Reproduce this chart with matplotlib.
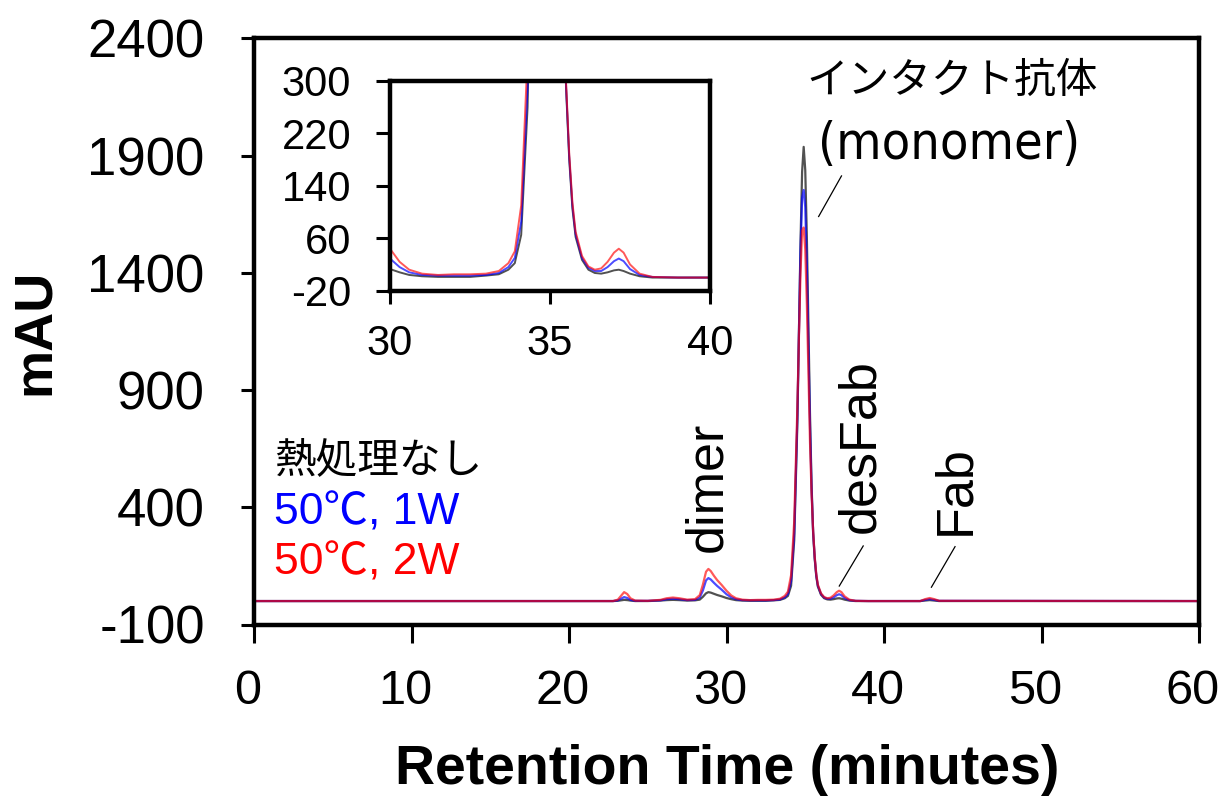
import matplotlib
matplotlib.use('Agg')
import matplotlib.pyplot as plt
from matplotlib import font_manager as fm
from matplotlib.transforms import ScaledTranslation

plt.rcParams['font.family'] = ['Liberation Sans', 'Noto Sans CJK JP', 'DejaVu Sans']
plt.rcParams['axes.unicode_minus'] = False

# retention time (min) and absorbance (mAU)
t = [0, 22.8, 23.1, 23.3, 23.5, 23.7, 23.9, 24.2, 25.0, 25.8, 26.2, 26.6, 27.0, 27.5,
     28.0, 28.3, 28.5, 28.7, 28.85, 29.0, 29.2, 29.4, 29.7, 30.0, 30.3, 30.6, 31.0,
     31.5, 32.0, 32.5, 33.0, 33.4, 33.7, 33.9, 34.1, 34.3, 34.5, 34.6, 34.7, 34.8,
     34.9, 35.0, 35.1, 35.2, 35.3, 35.4, 35.5, 35.6, 35.7, 35.8, 36.0, 36.2, 36.4,
     36.6, 36.8, 37.0, 37.15, 37.3, 37.5, 37.8, 38.2, 39.0, 42.3, 42.6, 42.9, 43.2,
     43.5, 60]

no_heat = [0, 0, 1, 3, 5, 4, 2, 0, 0, 2, 4, 5, 4, 2,
           3, 6, 18, 33, 38, 36, 31, 26, 20, 13, 8, 4, 2,
           1, 1, 1, 3, 5, 12, 22, 65, 260, 760, 1150, 1530, 1830,
           1937, 1838, 1556, 1180, 800, 500, 290, 180, 105, 62, 27, 12, 7,
           6, 8, 11, 12, 10, 6, 2, 0, 0, 0, 2, 4, 2,
           0, 0]

w1 = [0, 0, 3, 10, 17, 13, 5, 1, 1, 3, 8, 10, 8, 4,
      5, 15, 45, 88, 98, 92, 78, 65, 48, 29, 16, 8, 4,
      3, 3, 3, 4, 7, 16, 30, 85, 290, 790, 1150, 1500, 1720,
      1753, 1680, 1430, 1090, 750, 480, 295, 185, 110, 66, 30, 15, 10,
      10, 16, 25, 29, 25, 13, 4, 1, 0, 0, 5, 8, 5,
      1, 0]

w2 = [0, 0, 6, 22, 38, 30, 12, 2, 1, 5, 12, 15, 12, 6,
      8, 25, 70, 125, 137, 128, 108, 90, 68, 44, 24, 12, 6,
      4, 5, 5, 6, 10, 22, 40, 110, 340, 830, 1130, 1400, 1580,
      1593, 1500, 1270, 980, 680, 460, 300, 190, 115, 70, 33, 17, 12,
      14, 24, 38, 44, 38, 20, 6, 1, 0, 0, 8, 13, 8,
      1, 0]

series = [(no_heat, '#333333', 0.85), (w1, '#0000ff', 0.7), (w2, '#ff0000', 0.65)]

legend_labels = ['熱処理なし', '50℃, 1W', '50℃, 2W']
legend_colors = ['black', '#0000ff', '#ff0000']
legend_y = [597, 376, 162]

# peak labels: (text, x, y) and leader lines (x0, y0, x1, y1)
peak_labels = [('dimer', 28.8, 487), ('desFab', 38.55, 661), ('Fab', 44.58, 474)]
leaders = [(35.85, 1640, 37.3, 1813), (37.16, 64, 38.68, 235), (43.01, 59, 44.51, 232)]

main_yticks = [-100, 400, 900, 1400, 1900, 2400]
inset_yticks = [-20, 60, 140, 220, 300]
inset_xticks = [30, 35, 40]


def narrow_font():
    prefer = ['liberation sans narrow', 'arial narrow', 'condensed', 'narrow']
    cands = []
    for f in fm.fontManager.ttflist:
        key = (f.name + ' ' + f.fname).lower()
        if any(b in key for b in ['bold', 'italic', 'oblique', 'light', 'mono', 'black']):
            continue
        for rank, p in enumerate(prefer):
            if p in key:
                cands.append((rank, f.fname))
                break
    if not cands:
        return None
    return sorted(cands)[0][1]


narrow_path = narrow_font()

fig = plt.figure(figsize=(12.23, 7.98), dpi=100)
W, H = 1223, 798
ax = fig.add_axes([254 / W, 1 - 624.5 / H, (1199 - 254) / W, (624.5 - 38.3) / H])

for vals, c, a in series:
    ax.plot(t, vals, color=c, lw=1.6, alpha=a)

ax.set_xlim(0, 60)
ax.set_ylim(-100, 2400)
ax.set_xticks(range(0, 61, 10))
ax.set_yticks(main_yticks)
for s in ax.spines.values():
    s.set_linewidth(3.2)
ax.tick_params(axis='y', direction='out', length=9.5, width=2.2, pad=26, labelsize=38)
ax.tick_params(axis='x', direction='out', length=13, width=2.2, pad=19, labelsize=35)
shift = ScaledTranslation(-6 / 100, 0, fig.dpi_scale_trans)
for lab in ax.get_xticklabels():
    lab.set_transform(lab.get_transform() + shift)

fig.text(35 / W, 1 - 332 / H, 'mAU', rotation=90, fontsize=39, fontweight='bold',
         ha='center', va='center')
fig.text(727 / W, 1 - 770 / H, 'Retention Time (minutes)', fontsize=40,
         fontweight='bold', ha='center', va='center')

for lab, c, y in zip(legend_labels, legend_colors, legend_y):
    if lab == legend_labels[0]:
        ax.text(1.3, y, lab, fontsize=30, color=c, ha='left', va='center',
                family=['Noto Sans CJK JP'])
    else:
        ax.text(1.3, y, lab, fontsize=32, color=c, ha='left', va='center',
                family=['Liberation Sans', 'Noto Sans CJK JP'])

for lab, x, y in peak_labels:
    ax.text(x, y, lab, rotation=90, fontsize=37.5, ha='center', va='center')
for x0, y0, x1, y1 in leaders:
    ax.plot([x0, x1], [y0, y1], color='black', lw=0.9)

ax.text(44.35, 2214, 'インタクト抗体', fontsize=30, ha='center', va='center',
        family=['Noto Sans CJK JP'])
if narrow_path:
    mono = ax.text(44.13, 1946, '(monomer)', ha='center', va='center',
                   fontproperties=fm.FontProperties(fname=narrow_path, size=44))
    fig.canvas.draw()
    wpx = mono.get_window_extent().width
    mono.set_fontsize(44 * 262 / wpx)
else:
    ax.text(44.13, 1946, '(monomer)', fontsize=37, ha='center', va='center')

# inset zoom on the monomer region
axin = fig.add_axes([390 / W, 1 - 290.7 / H, 320 / W, (290.7 - 80.7) / H])
for vals, c, a in series:
    axin.plot(t, vals, color=c, lw=1.4, alpha=a)
axin.set_xlim(30, 40)
axin.set_ylim(-20, 300)
axin.set_xticks(inset_xticks)
axin.set_yticks(inset_yticks)
for s in axin.spines.values():
    s.set_linewidth(3.2)
axin.tick_params(axis='y', direction='out', length=10, width=2.2, pad=18, labelsize=30)
axin.tick_params(axis='x', direction='out', length=9, width=2.2, pad=15, labelsize=30)

fig.savefig('out.png', dpi=100)
